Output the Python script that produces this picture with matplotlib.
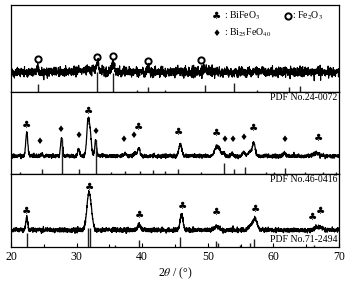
import numpy as np
import matplotlib
matplotlib.use("Agg")
import matplotlib.pyplot as plt

plt.rcParams['font.family'] = ['Liberation Serif', 'DejaVu Sans']
plt.rcParams['mathtext.fontset'] = 'stix'

# ---------------- data ----------------
x_ticks = [20, 30, 40, 50, 60, 70]
x_label = r"2$\theta$ / (°)"

# top pattern (Fe2O3-bearing, noisy)
top_base = 20
top_peaks_pos = [24.1, 31.5, 33.2, 35.6, 40.9, 49.5]
top_peaks_h = [4, 3, 8, 9, 4, 4]
top_peaks_w = [0.15, 1.5, 0.15, 0.2, 0.15, 0.15]
top_noise = 2.4
top_fe2o3_marks_x = [24.1, 33.1, 35.5, 40.9, 49.0]
top_fe2o3_marks_y = [33, 35, 36, 31, 32]
pdf_24_0072_pos = [24.1, 33.15, 35.6, 39.25, 40.85, 43.5, 49.5, 54.05, 57.5, 62.4, 64.0]
pdf_24_0072_h = [8, 20, 19, 2, 5, 2, 7, 9, 2, 5, 6]

# middle pattern (BiFeO3 + Bi25FeO40)
mid_base = 18
mid_peaks_pos = [22.4, 24.7, 27.7, 30.3, 31.75, 32.1, 32.9, 37.4, 38.9, 39.5,
                 45.8, 51.3, 51.7, 52.4, 53.7, 55.5, 56.4, 57.0, 61.7, 66.5]
mid_peaks_h = [24, 2, 18, 7, 35, 18, 16, 2, 3, 8,
               12, 7, 5, 3, 2, 4, 4, 13, 3, 3]
mid_peaks_w = [0.15, 0.15, 0.14, 0.14, 0.2, 0.17, 0.14, 0.2, 0.2, 0.17,
               0.22, 0.3, 0.3, 0.15, 0.2, 0.2, 0.25, 0.22, 0.2, 0.4]
mid_noise = 0.9
mid_club_x = [22.3, 31.8, 39.4, 45.5, 51.3, 56.9, 66.9]
mid_club_y = [49, 63, 47, 42, 41, 46, 36]
mid_diam_x = [24.3, 27.6, 30.3, 32.9, 37.2, 38.7, 52.5, 53.8, 55.5, 61.7]
mid_diam_y = [32, 44, 38, 43, 35, 38, 35, 34, 36, 35]
pdf_46_0416_pos = [21.4, 24.7, 27.7, 30.4, 32.95, 35.3, 37.45, 39.6, 41.6, 43.55, 45.4,
                   49.0, 52.4, 54.05, 55.65, 58.8, 60.1, 61.75, 64.8, 67.5, 69.5]
pdf_46_0416_h = [1.5, 5, 35, 5, 34, 1.5, 3, 3, 3.5, 3, 5,
                 2, 11, 5, 7, 2, 2, 6, 2, 2, 2]

# bottom pattern (BiFeO3)
bot_base = 17
bot_peaks_pos = [22.4, 31.75, 32.1, 39.5, 46.0, 51.3, 56.5, 57.2, 66.5, 67.2]
bot_peaks_h = [13, 24, 22, 6, 16, 4, 4, 11, 2, 3]
bot_peaks_w = [0.14, 0.28, 0.28, 0.22, 0.22, 0.35, 0.3, 0.32, 0.3, 0.4]
bot_noise = 1.1
bot_club_x = [22.4, 31.95, 39.6, 46.1, 51.4, 57.2, 66.0, 67.2]
bot_club_y = [36, 60, 32, 41, 35, 38, 30, 36]
pdf_71_2494_pos = [22.45, 31.75, 32.1, 35.9, 39.45, 45.75, 51.25, 51.6, 54.9, 56.4, 57.0, 66.2]
pdf_71_2494_h = [14, 19, 19, 2, 7, 10, 6, 4, 1.5, 4, 8, 2]

legend_labels = [r": BiFeO$_3$", r": Fe$_2$O$_3$", r": Bi$_{25}$FeO$_{40}$"]
pdf_labels = ["PDF No.24-0072", "PDF No.46-0416", "PDF No.71-2494"]

# ---------------- build ----------------
two_theta = np.arange(20, 70.001, 0.02)
rng = np.random.default_rng(7)


def pattern(base, pos, h, w, noise):
    y = np.full_like(two_theta, float(base))
    for p, a, s in zip(pos, h, w):
        y += a * np.exp(-0.5 * ((two_theta - p) / s) ** 2)
    y += rng.normal(0, noise, two_theta.size)
    return y


fig = plt.figure(figsize=(3.57, 2.82), dpi=100)
gs = fig.add_gridspec(3, 1, left=11/357, right=339/357, bottom=35/282, top=277/282,
                      height_ratios=[87, 82, 73], hspace=0)
axes = [fig.add_subplot(gs[i]) for i in range(3)]
lims = [87, 82, 73]

for ax, lim in zip(axes, lims):
    ax.set_xlim(20, 70)
    ax.set_ylim(0, lim)
    ax.set_yticks([])
    for sp in ax.spines.values():
        sp.set_linewidth(0.9)
    ax.tick_params(axis='x', which='both', bottom=False, labelbottom=False)

stick_kw = dict(colors='#222222', linewidth=1.0)
club_kw = dict(family='DejaVu Sans', fontsize=7.5, ha='center', va='center')
diam_kw = dict(family='DejaVu Sans', fontsize=6.5, ha='center', va='center')
circ_kw = dict(marker='o', mfc='none', mec='black', ms=4.5, mew=1.4, linestyle='none')

# top
a = axes[0]
a.plot(two_theta, pattern(top_base, top_peaks_pos, top_peaks_h, top_peaks_w, top_noise),
       color='black', lw=0.8)
a.vlines(pdf_24_0072_pos, 0, pdf_24_0072_h, **stick_kw)
a.plot(top_fe2o3_marks_x, top_fe2o3_marks_y, **circ_kw)
# legend
a.text(51.4, 76, "♣", **club_kw)
a.text(52.4, 76, legend_labels[0], fontsize=7, ha='left', va='center')
a.plot([62.2], [76], **circ_kw)
a.text(62.9, 76, legend_labels[1], fontsize=7, ha='left', va='center')
a.text(51.4, 59, "♦", **diam_kw)
a.text(52.4, 59, legend_labels[2], fontsize=7, ha='left', va='center')

# middle
a = axes[1]
a.plot(two_theta, pattern(mid_base, mid_peaks_pos, mid_peaks_h, mid_peaks_w, mid_noise),
       color='black', lw=0.9)
a.vlines(pdf_46_0416_pos, 0, pdf_46_0416_h, **stick_kw)
for xx, yy in zip(mid_club_x, mid_club_y):
    a.text(xx, yy, "♣", **club_kw)
for xx, yy in zip(mid_diam_x, mid_diam_y):
    a.text(xx, yy, "♦", **diam_kw)
a.text(69.8, 81, pdf_labels[0], fontsize=7, ha='right', va='top')

# bottom
a = axes[2]
a.plot(two_theta, pattern(bot_base, bot_peaks_pos, bot_peaks_h, bot_peaks_w, bot_noise),
       color='black', lw=0.9)
a.vlines(pdf_71_2494_pos, 0, pdf_71_2494_h, **stick_kw)
for xx, yy in zip(bot_club_x, bot_club_y):
    a.text(xx, yy, "♣", **club_kw)
a.text(69.8, 72, pdf_labels[1], fontsize=7, ha='right', va='top')
a.text(69.8, 7, pdf_labels[2], fontsize=7, ha='right', va='center')

a.set_xticks(x_ticks)
a.set_xticks(range(25, 70, 10), minor=True)
a.tick_params(axis='x', which='both', bottom=True, labelbottom=True, direction='in',
              labelsize=8.5, pad=3)
a.tick_params(axis='x', which='major', length=3, width=0.8)
a.tick_params(axis='x', which='minor', length=2, width=0.8)
a.set_xlabel(x_label, fontsize=8.5, labelpad=2)

fig.savefig("out.png", dpi=100)
